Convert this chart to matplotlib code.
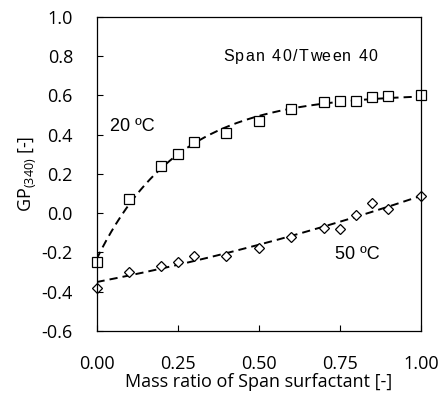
import matplotlib
matplotlib.use('Agg')
import matplotlib.pyplot as plt
from matplotlib.font_manager import FontProperties
import numpy as np

# data
x_20 = [0.0, 0.1, 0.2, 0.25, 0.3, 0.4, 0.5, 0.6, 0.7, 0.75, 0.8, 0.85, 0.9, 1.0]
gp_20 = [-0.25, 0.07, 0.24, 0.30, 0.36, 0.41, 0.47, 0.53, 0.565, 0.57, 0.57, 0.59, 0.595, 0.60]

x_50 = [0.0, 0.1, 0.2, 0.25, 0.3, 0.4, 0.5, 0.6, 0.7, 0.75, 0.8, 0.85, 0.9, 1.0]
gp_50 = [-0.38, -0.30, -0.27, -0.25, -0.22, -0.22, -0.175, -0.12, -0.075, -0.08, -0.01, 0.05, 0.02, 0.09]

xticks = [0.0, 0.25, 0.5, 0.75, 1.0]
yticks = [-0.6, -0.4, -0.2, 0.0, 0.2, 0.4, 0.6, 0.8, 1.0]


def fit_saturation(x, y):
    # y = a - b*exp(-k x), grid over k and least squares for a, b
    x = np.asarray(x)
    y = np.asarray(y)
    best = None
    for k in np.linspace(0.5, 15, 300):
        A = np.column_stack([np.ones_like(x), -np.exp(-k * x)])
        coef, res, _, _ = np.linalg.lstsq(A, y, rcond=None)
        err = np.sum((A @ coef - y) ** 2)
        if best is None or err < best[0]:
            best = (err, k, coef)
    _, k, (a, b) = best
    return lambda t: a - b * np.exp(-k * t)


def spaced_text(ax, x, y, s, prop, track=3.0):
    # letter-spaced label: one text per character, x,y = left/center in axes coords (px tracking)
    fig = ax.figure
    r = fig.canvas.get_renderer()
    x0, y0 = ax.transAxes.transform((x, y))
    for i, ch in enumerate(s):
        w = r.get_text_width_height_descent(s[:i], prop, ismath=False)[0] if i else 0
        fig.text(x0 + w + i * track, y0, ch, transform=None, fontproperties=prop,
                 ha='left', va='center')


xs = np.linspace(0, 1, 200)
f20 = fit_saturation(x_20, gp_20)
p50 = np.polyfit(x_50, gp_50, 2)

fig = plt.figure(figsize=(4.43, 4.0), dpi=100)
ax = fig.add_axes([0.218, 0.1725, 0.732, 0.7855])

ax.plot(xs, f20(xs), color='black', lw=1.4, dashes=(4.2, 2.6))
ax.plot(xs, np.polyval(p50, xs), color='black', lw=1.4, dashes=(4.2, 2.6))
ax.plot(x_20, gp_20, 's', mfc='white', mec='black', ms=7, mew=0.9, clip_on=False)
ax.plot(x_50, gp_50, 'D', mfc='white', mec='black', ms=5.3, mew=0.9, clip_on=False)

ax.set_xlim(0, 1)
ax.set_ylim(-0.6, 1.0)
ax.set_xticks(xticks)
ax.set_xticklabels(['%.2f' % v for v in xticks])
ax.set_yticks(yticks)
ax.set_yticklabels(['%.1f' % v for v in yticks])
ax.tick_params(direction='in', length=4.5, width=0.8, labelsize=13)
ax.tick_params(axis='x', pad=17)
ax.tick_params(axis='y', pad=17)
for lab in ax.get_xticklabels() + ax.get_yticklabels():
    lab.set_family('Open Sans')
for s in ax.spines.values():
    s.set_linewidth(0.9)

ax.set_xlabel('Mass ratio of Span surfactant [-]', family='Open Sans', fontsize=13, labelpad=0)
ax.set_ylabel(r'$\mathregular{GP_{(340)}}$ [-]', family='Open Sans', fontsize=13, labelpad=2.5)

spaced_text(ax, 0.39, 0.875, 'Span 40/Tween 40',
            FontProperties(family='Liberation Sans', size=11.5), track=1.4)
ax.text(0.04, 0.65, '20 ºC', transform=ax.transAxes, ha='left', va='center',
        family='Liberation Sans', fontsize=13)
ax.text(0.735, 0.242, '50 ºC', transform=ax.transAxes, ha='left', va='center',
        family='Liberation Sans', fontsize=13)

fig.savefig('out.png', dpi=100)
